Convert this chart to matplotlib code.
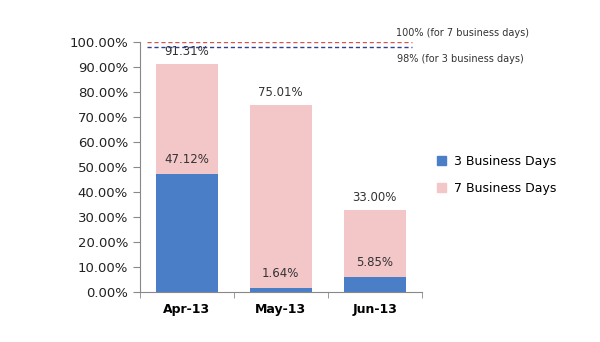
import matplotlib
matplotlib.use('Agg')
import matplotlib.pyplot as plt
import numpy as np
from matplotlib.patches import Patch
from matplotlib.ticker import FuncFormatter

months = ["Apr-13", "May-13", "Jun-13"]
days7 = [91.31, 75.01, 33.00]
days3 = [47.12, 1.64, 5.85]
target7 = 100
target3 = 98

BLUE = "#4A7EC6"
PINK = "#F3C6C8"

plt.rcParams['font.family'] = ['DejaVu Sans']

fig = plt.figure(figsize=(6, 3.42), dpi=100)
ax = fig.add_axes([0.233, 0.146, 0.470, 0.731])

x = np.arange(len(months))
w = 0.66
ax.bar(x, days7, width=w, color=PINK, zorder=2)
ax.bar(x, days3, width=w, color=BLUE, zorder=3)

for xi, v in zip(x, days7):
    ax.annotate(f"{v:.2f}%", (xi, v), xytext=(0, 4), textcoords="offset points",
                ha="center", va="bottom", fontsize=8.5, color="#333333")
for xi, v in zip(x, days3):
    ax.annotate(f"{v:.2f}%", (xi, v), xytext=(0, 6), textcoords="offset points",
                ha="center", va="bottom", fontsize=8.5, color="#333333", zorder=4)

# target lines
ax.hlines(target7, -0.42, 2.4, colors="#D9534F", linestyles=(0, (3, 2)), linewidth=1.0, zorder=4)
ax.hlines(target3, -0.42, 2.4, colors="#2E3F8F", linestyles=(0, (3, 2)), linewidth=1.0, zorder=4)
ax.annotate("100% (for 7 business days)", (2.4, target7), xytext=(-12, 3), textcoords="offset points",
            ha="left", va="bottom", fontsize=7, color="#333333", annotation_clip=False)
ax.annotate("98% (for 3 business days)", (2.4, target3), xytext=(-11, -5), textcoords="offset points",
            ha="left", va="top", fontsize=7, color="#333333", annotation_clip=False)

ax.set_xlim(-0.5, 2.5)
ax.set_ylim(0, 100)
ax.set_yticks(np.arange(0, 101, 10))
ax.yaxis.set_major_formatter(FuncFormatter(lambda v, p: f"{v:.2f}%"))
ax.set_xticks(x)
ax.set_xticklabels(months, fontweight="bold", fontsize=9)
ax.set_xticks([-0.5, 0.5, 1.5, 2.5], minor=True)
ax.tick_params(axis="x", which="major", length=0, pad=8)
ax.tick_params(axis="x", which="minor", length=4, color="#888888")
ax.tick_params(axis="y", length=5, color="#888888", labelsize=9.5, labelcolor="#222222")

for s in ["top", "right"]:
    ax.spines[s].set_visible(False)
for s in ["left", "bottom"]:
    ax.spines[s].set_color("#888888")

handles = [Patch(color=BLUE, label="3 Business Days"), Patch(color=PINK, label="7 Business Days")]
fig.legend(handles=handles, loc="upper left", bbox_to_anchor=(0.71, 0.58), frameon=False,
           fontsize=9, handlelength=0.7, handleheight=0.7, labelspacing=1.1, handletextpad=0.6)

fig.savefig("out.png", dpi=100)
